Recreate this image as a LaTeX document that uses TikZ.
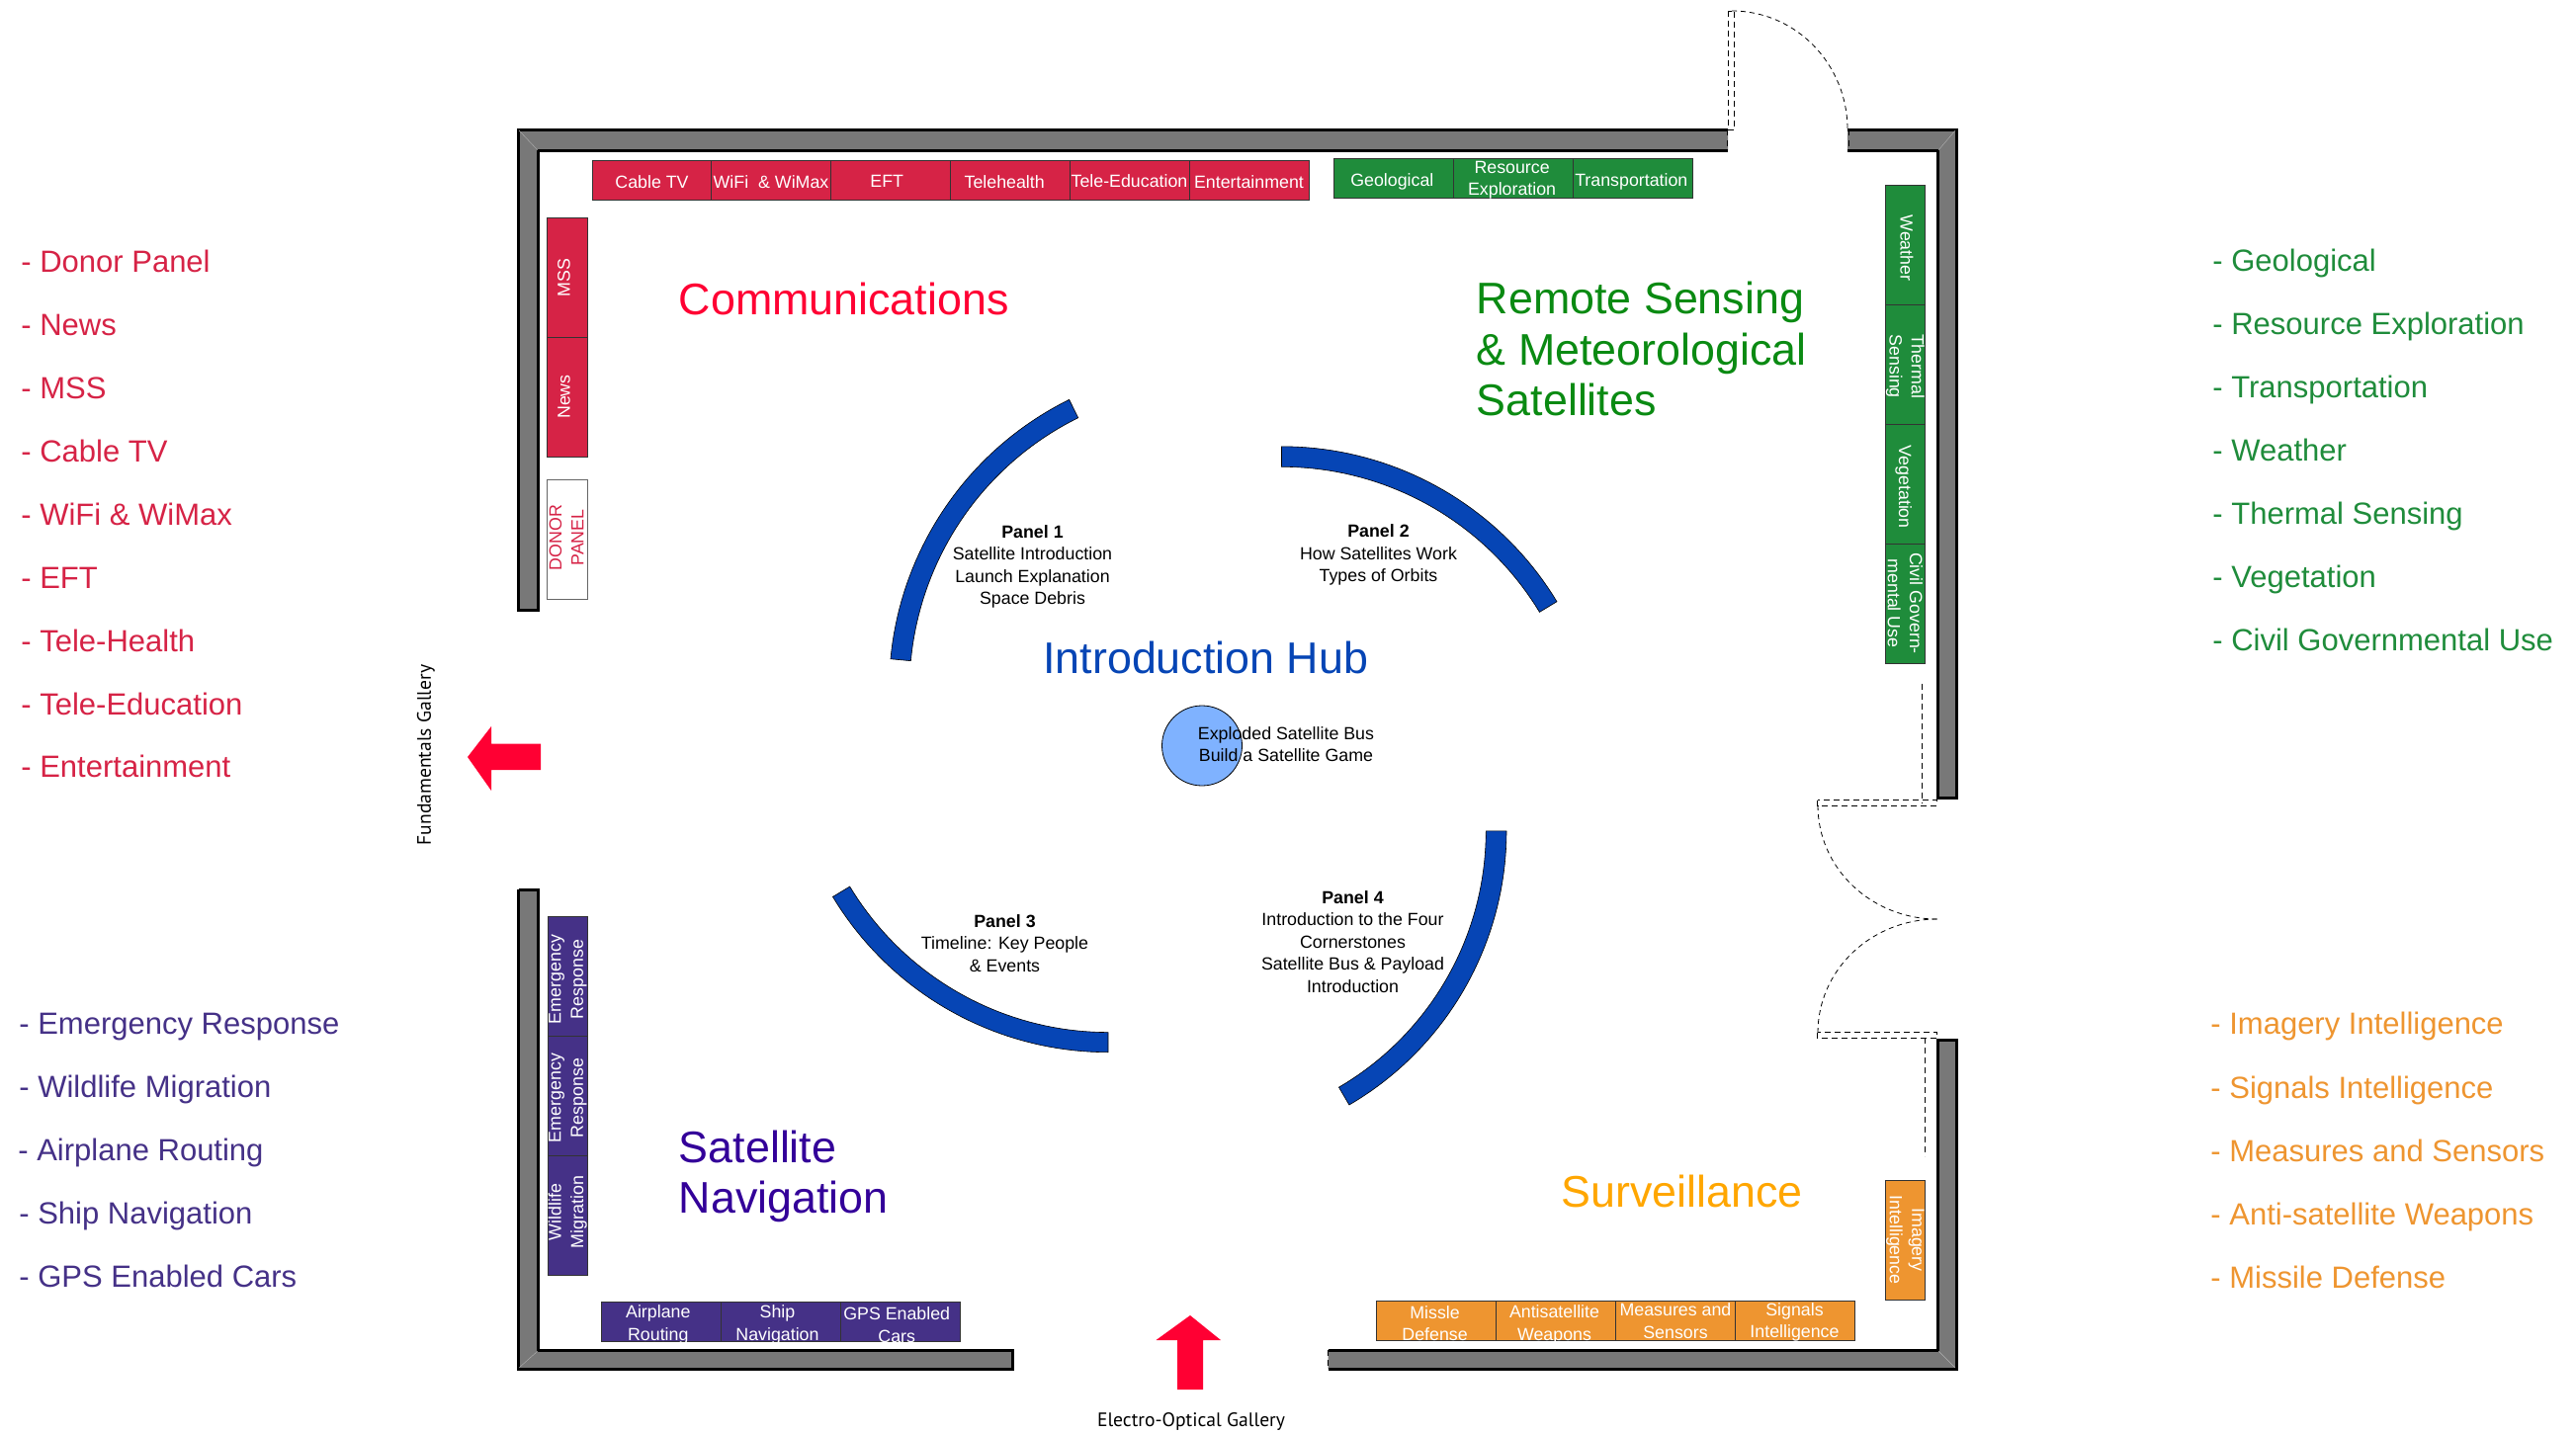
\documentclass[tikz,border=0pt]{standalone}
\usepackage{fontspec}
\setmainfont{Liberation Sans}
\newfontfamily\galleryfont{PT Sans}
\definecolor{wallgray}{HTML}{787878}
\definecolor{commred}{HTML}{D62346}
\definecolor{titlered}{HTML}{FF0033}
\definecolor{sensegreen}{HTML}{1F8C3B}
\definecolor{titlegreen}{HTML}{0A8A12}
\definecolor{navpurple}{HTML}{453187}
\definecolor{titlepurple}{HTML}{330099}
\definecolor{survorange}{HTML}{EE9530}
\definecolor{titleorange}{HTML}{FFA600}
\definecolor{hubblue}{HTML}{0645B5}
\definecolor{hubdisc}{HTML}{7FB2FF}
\tikzset{
  cell/.style={draw=black!80, line width=0.5pt, inner sep=0pt},
  hcell/.style={cell, minimum width=60.5pt, minimum height=20pt},
  vcell/.style={cell, minimum width=20.3pt, minimum height=60.5pt},
  celltext/.style={text=white, inner sep=0pt, align=center, font=\fontsize{8.9}{11.2}\selectfont},
  title/.style={anchor=west, inner sep=0pt, align=left, font=\fontsize{22.4}{25.6}\selectfont},
  listitem/.style={anchor=base west, inner sep=0pt, font=\fontsize{15.5}{18}\selectfont},
  panelnote/.style={inner sep=0pt, align=center, font=\fontsize{8.9}{11.2}\selectfont},
  gallery/.style={inner sep=0pt, font=\galleryfont\fontsize{9.8}{12}\selectfont},
  wall/.style={fill=wallgray, draw=black, line width=1.5pt, line join=miter},
  jamb/.style={black, thin, dash pattern=on 3pt off 2pt},
  swing/.style={black, thin, dash pattern=on 2.5pt off 2pt},
  seam/.style={white!70!black, very thin},
  panelarc/.style={fill=hubblue, draw=black, line width=0.3pt},
}
\begin{document}
\begin{tikzpicture}[x=0.5pt,y=-0.5pt]
\useasboundingbox (0,0) rectangle (2606,1450);

\filldraw [wall] (1748,131.5) -- (524.5,131.5) -- (524.5,617) -- (544.5,617) -- (544.5,152) -- (1748,152);
\filldraw [wall] (1869,131.5) -- (1979,131.5) -- (1979,807) -- (1960,807) -- (1960,152) -- (1869,152);
\filldraw [wall] (1343.5,1366) -- (1960,1366) -- (1960,1052) -- (1979,1052) -- (1979,1385) -- (1343.5,1385);
\filldraw [wall] (524.5,900) -- (544.5,900) -- (544.5,1366) -- (1024,1366) -- (1024,1385) -- (524.5,1385) -- (524.5,900);
\draw [seam] (525,132) -- (544,152);
\draw [seam] (1978,132) -- (1961,152);
\draw [seam] (1978,1384) -- (1961,1367);
\draw [seam] (525,1384) -- (544,1367);

\draw [jamb] (524.5,618) -- (544.5,618);
\draw [jamb] (524.5,900) -- (544.5,900);
\draw [jamb] (1747,131.5) -- (1747,152);
\draw [jamb] (1870.5,131.5) -- (1870.5,152);
\draw [jamb] (1960,808) -- (1979,808);
\draw [jamb] (1960,1051) -- (1979,1051);
\draw [jamb] (1024.5,1366) -- (1024.5,1385);
\draw [jamb] (1343,1366) -- (1343,1385);

\draw [jamb] (1748.5,11) rectangle (1754.5,131.5);
\draw [swing] (1752,11) .. controls (1816.6,11) and (1869,64.7) .. (1869,131);
\draw [jamb] (1838.5,809.5) rectangle (1959,815);
\draw [swing] (1839,815) .. controls (1839,878.5) and (1893,930) .. (1960,930);
\draw [jamb] (1838.5,1044.5) rectangle (1959,1050.5);
\draw [swing] (1839,1045) .. controls (1839,981.5) and (1893,930) .. (1960,930);
\draw [jamb] (1944.3,691.5) -- (1944.3,813);
\draw [jamb] (1947.3,1050) -- (1947.3,1170);

\node [hcell, fill=commred] (cable) at (659.5,182) {};
\node [hcell, fill=commred] (wifi) at (780,182) {};
\node [hcell, fill=commred] (eft) at (900.7,182) {};
\node [hcell, fill=commred] (telehealth) at (1021.7,182) {};
\node [hcell, fill=commred] (teleedu) at (1142.5,182) {};
\node [hcell, fill=commred] (entertain) at (1263.5,182) {};
\node [vcell, fill=commred] (mss) at (574,281) {};
\node [vcell, fill=commred] (news) at (574,401.5) {};
\node [vcell, draw=black!60, fill=white] (donor) at (574,545.5) {};
\node [celltext] (cabletext) at ([shift={(0,1.7)}]cable) {Cable TV};
\node [celltext] (wifitext) at ([shift={(0,1.7)}]wifi) {WiFi \ \& WiMax};
\node [celltext] (efttext) at ([shift={(-3.5,1.7)}]eft) {EFT};
\node [celltext] (telehealthtext) at ([shift={(-5.5,2.5)}]telehealth) {Telehealth};
\node [celltext] (teleedutext) at ([shift={(0,1)}]teleedu) {Tele-Education};
\node [celltext] (entertaintext) at ([shift={(0,1.7)}]entertain) {Entertainment};
\node [celltext, rotate=90] (msstext) at ([shift={(-3.5,0)}]mss) {MSS};
\node [celltext, rotate=90] (newstext) at ([shift={(-3.5,0)}]news) {News};
\node [celltext, rotate=90, text=commred] (donortext) at ([shift={(-1,-1.5)}]donor) {DONOR\\PANEL};

\node [hcell, fill=sensegreen] (geological) at (1410,180.4) {};
\node [hcell, fill=sensegreen] (resource) at (1531,180.4) {};
\node [hcell, fill=sensegreen] (transport) at (1652,180.4) {};
\node [vcell, fill=sensegreen] (weather) at (1927.3,248) {};
\node [vcell, fill=sensegreen] (thermal) at (1927.3,369) {};
\node [vcell, fill=sensegreen] (vegetation) at (1927.3,489.7) {};
\node [vcell, fill=sensegreen] (civil) at (1927.3,610.5) {};
\node [celltext] (geologicaltext) at ([shift={(-1.7,3)}]geological) {Geological};
\node [celltext] (resourcetext) at ([shift={(-1.4,1.7)}]resource) {Resource\\Exploration};
\node [celltext] (transporttext) at ([shift={(-1.7,3)}]transport) {Transportation};
\node [celltext, rotate=-90] (weathertext) at ([shift={(1.7,3)}]weather) {Weather};
\node [celltext, rotate=-90] (thermaltext) at ([shift={(0,1.7)}]thermal) {Thermal\\Sensing};
\node [celltext, rotate=-90] (vegetationtext) at ([shift={(-1.7,3)}]vegetation) {Vegetation};
\node [celltext, rotate=-90] (civiltext) at ([shift={(0,0)}]civil) {Civil Govern-\\mental Use};

\node [vcell, fill=navpurple] (emergencya) at (574.3,987.5) {};
\node [vcell, fill=navpurple] (emergencyb) at (574.3,1108.5) {};
\node [vcell, fill=navpurple] (wildlife) at (574.3,1229.5) {};
\node [hcell, fill=navpurple] (airplane) at (669.3,1337) {};
\node [hcell, fill=navpurple] (ship) at (790,1337) {};
\node [hcell, fill=navpurple] (gps) at (910.7,1337) {};
\node [celltext, rotate=90] (emergencyatext) at ([shift={(0,3.5)}]emergencya) {Emergency\\Response};
\node [celltext, rotate=90] (emergencybtext) at ([shift={(0,2.5)}]emergencyb) {Emergency\\Response};
\node [celltext, rotate=90] (wildlifetext) at ([shift={(0,-3)}]wildlife) {Wildlife\\Migration};
\node [celltext] (airplanetext) at ([shift={(-3.5,3.5)}]airplane) {Airplane\\Routing};
\node [celltext] (shiptext) at ([shift={(-3.5,3.5)}]ship) {Ship\\Navigation};
\node [celltext] (gpstext) at ([shift={(-3.5,3.5)}]gps) {GPS Enabled\\Cars};

\node [hcell, fill=survorange] (missile) at (1453.3,1336.7) {};
\node [hcell, fill=survorange] (antisat) at (1574.2,1336.7) {};
\node [hcell, fill=survorange] (measures) at (1695,1336.7) {};
\node [hcell, fill=survorange] (signals) at (1815.5,1336.7) {};
\node [vcell, fill=survorange] (imagery) at (1927.3,1254.5) {};
\node [celltext] (missiletext) at ([shift={(-1.7,2.5)}]missile) {Missle\\Defense};
\node [celltext] (antisattext) at ([shift={(-1.7,3.5)}]antisat) {Antisatellite\\Weapons};
\node [celltext] (measurestext) at (measures) {Measures and\\Sensors};
\node [celltext] (signalstext) at ([shift={(0,1)}]signals) {Signals\\Intelligence};
\node [celltext, rotate=-90] (imagerytext) at (imagery) {Imagery\\Intelligence};

\node [title, text=titlered] (commtitle) at (686.5,302) {Communications};
\node [title, text=titlegreen] (sensetitle) at (1493.5,353) {Remote Sensing\\\& Meteorological\\Satellites};
\node [title, text=titlepurple] (navtitle) at (686.5,1190.5) {Satellite\\Navigation};
\node [title, text=titleorange] (survtitle) at (1579,1205.5) {Surveillance};
\node [title, text=hubblue] (hubtitle) at (1055,665.5) {Introduction Hub};

\filldraw [panelarc] plot[domain=174.6:116.3,samples=40] ({1226.5+327*cos(\x)},{697.5-327*sin(\x)}) -- plot[domain=116.3:174.6,samples=40] ({1226.5+306.5*cos(\x)},{697.5-306.5*sin(\x)}) -- cycle;
\filldraw [panelarc] plot[domain=90:31.2,samples=40] ({1296.5+325.6*cos(\x)},{777.4-325.6*sin(\x)}) -- plot[domain=31.2:90,samples=40] ({1296.5+305.1*cos(\x)},{777.4-305.1*sin(\x)}) -- cycle;
\filldraw [panelarc] plot[domain=270:211.1,samples=40] ({1121+325.3*cos(\x)},{739.4-325.3*sin(\x)}) -- plot[domain=211.1:270,samples=40] ({1121+305.2*cos(\x)},{739.4-305.2*sin(\x)}) -- cycle;
\filldraw [panelarc] plot[domain=0:-59.7,samples=40] ({1202.9+321.1*cos(\x)},{840.8-321.1*sin(\x)}) -- plot[domain=-59.7:0,samples=40] ({1202.9+300.4*cos(\x)},{840.8-300.4*sin(\x)}) -- cycle;

\node [panelnote] (panelone) at (1044.5,573.5) {\textbf{Panel 1}\\Satellite Introduction\\Launch Explanation\\Space Debris};
\node [panelnote] (paneltwo) at (1394.5,561.5) {\textbf{Panel 2}\\How Satellites Work\\Types of Orbits};
\node [panelnote] (panelthree) at (1016.5,954.5) {\textbf{Panel 3}\\Timeline: Key People\\\& Events};
\node [panelnote] (panelfour) at (1368.5,953) {\textbf{Panel 4}\\Introduction to the Four\\Cornerstones\\Satellite Bus \& Payload\\Introduction};

\node [circle, fill=hubdisc, draw=black, line width=0.4pt, minimum size=40.5pt, inner sep=0pt] (hub) at (1216,754.5) {};
\node [panelnote] (hubnote) at (1301,753) {Exploded Satellite Bus\\Build a Satellite Game};

\fill [titlered] (473,766) -- (497,735) -- (497,752.7) -- (547,752.7) -- (547,779) -- (497,779) -- (497,800) -- cycle;
\fill [titlered] (1204,1331) -- (1235,1356) -- (1217,1356) -- (1217,1406) -- (1191,1406) -- (1191,1356) -- (1169.5,1356) -- cycle;
\node [gallery, rotate=90] (fundamentals) at (431,764) {Fundamentals Gallery};
\node [gallery] (electro) at (1205,1439) {Electro-Optical Gallery};

\node [listitem, text=commred] (lista) at (21,275) {- Donor Panel};
\node [listitem, text=commred] (listb) at (21,339) {- News};
\node [listitem, text=commred] (listc) at (21,403) {- MSS};
\node [listitem, text=commred] (listd) at (21,467) {- Cable TV};
\node [listitem, text=commred] (liste) at (21,531) {- WiFi \& WiMax};
\node [listitem, text=commred] (listf) at (21,595) {- EFT};
\node [listitem, text=commred] (listg) at (21,659) {- Tele-Health};
\node [listitem, text=commred] (listh) at (21,723) {- Tele-Education};
\node [listitem, text=commred] (listi) at (21,786) {- Entertainment};

\node [listitem, text=navpurple] (navlista) at (19,1046) {- Emergency Response};
\node [listitem, text=navpurple] (navlistb) at (19,1110) {- Wildlife Migration};
\node [listitem, text=navpurple] (navlistc) at (18,1174) {- Airplane Routing};
\node [listitem, text=navpurple] (navlistd) at (19,1238) {- Ship Navigation};
\node [listitem, text=navpurple] (navliste) at (19,1302) {- GPS Enabled Cars};

\node [listitem, text=sensegreen] (senselista) at (2238,274) {- Geological};
\node [listitem, text=sensegreen] (senselistb) at (2238,338) {- Resource Exploration};
\node [listitem, text=sensegreen] (senselistc) at (2238,402) {- Transportation};
\node [listitem, text=sensegreen] (senselistd) at (2238,466) {- Weather};
\node [listitem, text=sensegreen] (senseliste) at (2238,530) {- Thermal Sensing};
\node [listitem, text=sensegreen] (senselistf) at (2238,594) {- Vegetation};
\node [listitem, text=sensegreen] (senselistg) at (2238,658) {- Civil Governmental Use};

\node [listitem, text=survorange] (survlista) at (2236,1046.5) {- Imagery Intelligence};
\node [listitem, text=survorange] (survlistb) at (2236,1111) {- Signals Intelligence};
\node [listitem, text=survorange] (survlistc) at (2236,1175) {- Measures and Sensors};
\node [listitem, text=survorange] (survlistd) at (2236,1239) {- Anti-satellite Weapons};
\node [listitem, text=survorange] (survliste) at (2236,1303) {- Missile Defense};
\end{tikzpicture}
\end{document}
